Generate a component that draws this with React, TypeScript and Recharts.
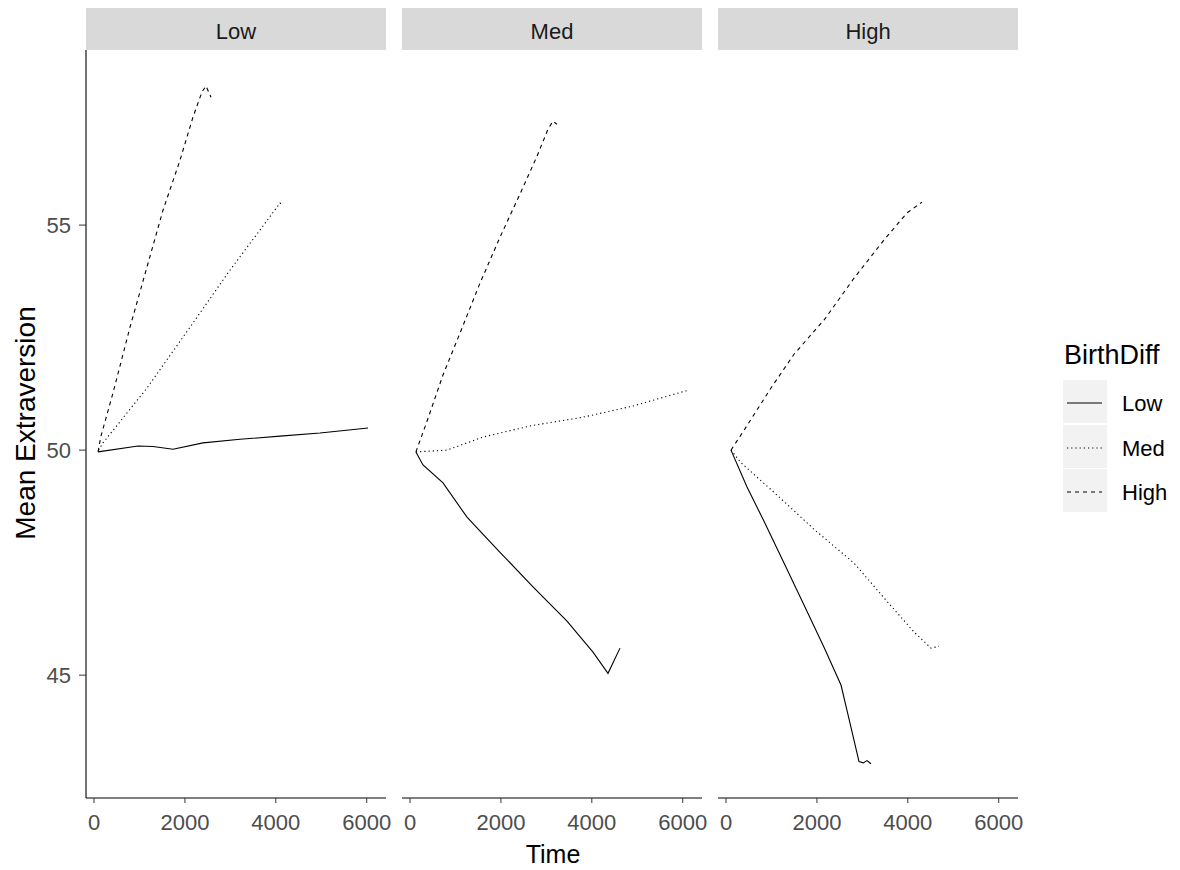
import { LineChart, Line, XAxis, YAxis } from 'recharts';

// facet labels (BirthOrder groups) and BirthDiff series
const facets = ['Low', 'Med', 'High'];
const seriesNames = ['Low', 'Med', 'High'];
const xTicks = [0, 2000, 4000, 6000];
const yTicks = [45, 50, 55];

// [Time, Mean Extraversion]
const lowFacetLow = [[88, 49.96], [968, 50.09], [1300, 50.08], [1738, 50.02], [2398, 50.16], [3212, 50.24], [4092, 50.31], [4972, 50.38], [6028, 50.49]];
const lowFacetMed = [[100, 50.0], [198, 50.16], [1166, 51.38], [2112, 52.73], [2992, 54.0], [3652, 54.89], [4092, 55.49], [4158, 55.44]];
const lowFacetHigh = [[90, 49.96], [150, 50.3], [418, 51.27], [792, 52.73], [1166, 54.07], [1518, 55.33], [1892, 56.44], [2178, 57.4], [2376, 57.96], [2464, 58.09], [2574, 57.84]];

const medFacetLow = [[130, 49.96], [286, 49.67], [726, 49.27], [1254, 48.51], [1980, 47.73], [2706, 46.96], [3454, 46.2], [4026, 45.51], [4356, 45.04], [4620, 45.6]];
const medFacetMed = [[130, 49.96], [814, 50.0], [1606, 50.29], [2706, 50.55], [3806, 50.73], [4906, 50.98], [6116, 51.33]];
const medFacetHigh = [[130, 49.96], [374, 50.64], [726, 51.67], [1100, 52.6], [1540, 53.71], [1980, 54.73], [2420, 55.69], [2794, 56.53], [3036, 57.13], [3146, 57.31], [3234, 57.24]];

const highFacetLow = [[110, 50.0], [462, 49.18], [836, 48.42], [1276, 47.49], [1716, 46.56], [2156, 45.62], [2530, 44.78], [2750, 43.84], [2926, 43.08], [3020, 43.05], [3102, 43.1], [3190, 43.03]];
const highFacetMed = [[110, 50.0], [330, 49.72], [1210, 48.92], [1936, 48.24], [2816, 47.49], [3542, 46.64], [4136, 45.96], [4510, 45.6], [4686, 45.64]];
const highFacetHigh = [[110, 50.0], [396, 50.44], [990, 51.38], [1496, 52.13], [2156, 52.89], [2816, 53.82], [3476, 54.67], [3982, 55.27], [4312, 55.51]];

const facetSeries = [
    [lowFacetLow, lowFacetMed, lowFacetHigh],
    [medFacetLow, medFacetMed, medFacetHigh],
    [highFacetLow, highFacetMed, highFacetHigh],
];

const dashes = [undefined, '1.2 3', '4 4'];
const font = '"Liberation Sans", Arial, sans-serif';
const smallText = 22;

const toPoints = (arr: number[][]) => arr.map(([t, v]) => ({ t, v }));

const PANEL_W = 300;
const PLOT_TOP = 50;
const PLOT_H = 748;
const X_AXIS_H = 50;
const Y_AXIS_W = 86;
const RIGHT_PAD = 24;
const panelLefts = [86, 402, 718];

const Panel = ({ idx }: { idx: number }) => {
    const first = idx === 0;
    return (
        <div style={{ position: 'absolute', left: panelLefts[idx] - (first ? Y_AXIS_W : 0), top: PLOT_TOP }}>
            <LineChart
                width={PANEL_W + RIGHT_PAD + (first ? Y_AXIS_W : 0)}
                height={PLOT_H + X_AXIS_H}
                margin={{ top: 0, right: RIGHT_PAD, left: 0, bottom: 0 }}
            >
                <XAxis
                    type="number"
                    dataKey="t"
                    domain={[-176, 6424]}
                    ticks={xTicks}
                    allowDataOverflow
                    height={X_AXIS_H}
                    tickSize={5}
                    tickMargin={11}
                    axisLine={{ stroke: '#000', strokeWidth: 1.1 }}
                    tickLine={{ stroke: '#333' }}
                    tick={{ fill: '#4d4d4d', fontSize: smallText, fontFamily: font }}
                />
                <YAxis
                    type="number"
                    domain={[42.27, 58.89]}
                    ticks={yTicks}
                    allowDataOverflow
                    hide={!first}
                    width={Y_AXIS_W}
                    tickSize={7}
                    tickMargin={8}
                    axisLine={{ stroke: '#000', strokeWidth: 1.1 }}
                    tickLine={{ stroke: '#333' }}
                    tick={{ fill: '#4d4d4d', fontSize: smallText, fontFamily: font }}
                />
                {facetSeries[idx].map((s, i) => (
                    <Line
                        key={seriesNames[i]}
                        data={toPoints(s)}
                        dataKey="v"
                        type="linear"
                        stroke="#000"
                        strokeWidth={1.1}
                        strokeDasharray={dashes[i]}
                        dot={false}
                        isAnimationActive={false}
                    />
                ))}
            </LineChart>
        </div>
    );
};

const App = () => {
    return (
        <div style={{ position: 'absolute', left: 0, top: 0, width: 1180, height: 870, background: '#fff', fontFamily: font }}>
            {facets.map((f, i) => <Panel key={f} idx={i} />)}
            {facets.map((f, i) => (
                <div
                    key={f}
                    style={{
                        position: 'absolute', left: panelLefts[i], top: 8, width: PANEL_W, height: 42,
                        background: '#d9d9d9', color: '#1a1a1a', fontSize: smallText, lineHeight: '42px',
                        textAlign: 'center', paddingTop: 3, boxSizing: 'border-box',
                    }}
                >
                    {f}
                </div>
            ))}

            {/* axis titles */}
            <div style={{ position: 'absolute', left: 0, top: 840, width: 1106, textAlign: 'center', fontSize: 25, color: '#000' }}>
                Time
            </div>
            <div
                style={{
                    position: 'absolute', left: 26, top: 423, whiteSpace: 'nowrap', fontSize: 28, color: '#000',
                    transform: 'translate(-50%, -50%) rotate(-90deg)',
                }}
            >
                Mean Extraversion
            </div>

            {/* legend */}
            <div style={{ position: 'absolute', left: 1064, top: 340, fontSize: 27, color: '#000' }}>BirthDiff</div>
            {seriesNames.map((n, i) => (
                <div key={n} style={{ position: 'absolute', left: 1063, top: 380 + i * 44.5 }}>
                    <svg width={44} height={43} style={{ position: 'absolute', left: 0, top: 0 }}>
                        <rect x={0} y={0} width={44} height={43} fill="#f2f2f2" />
                        <line x1={4} x2={39} y1={23} y2={23} stroke="#000" strokeWidth={1.1} strokeDasharray={dashes[i]} />
                    </svg>
                    <div style={{ position: 'absolute', left: 59, top: 11, fontSize: smallText, color: '#000', whiteSpace: 'nowrap' }}>{n}</div>
                </div>
            ))}
        </div>
    );
};

export default App;
